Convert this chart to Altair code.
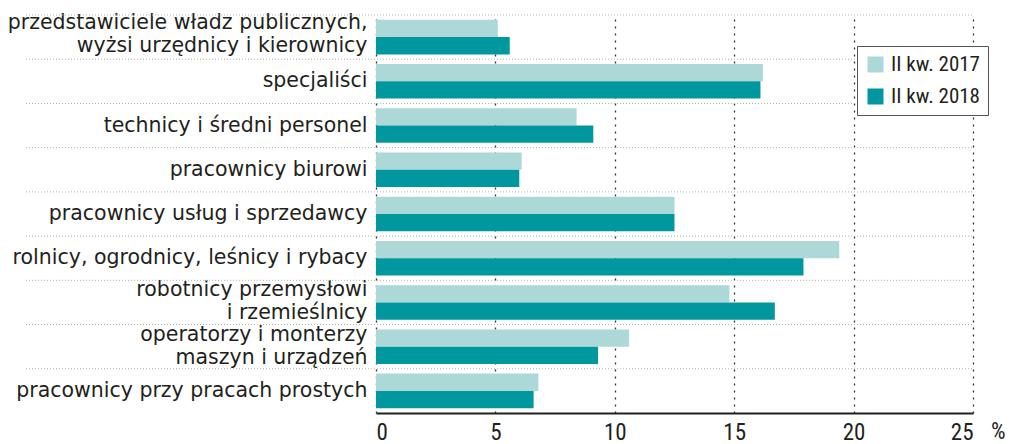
import altair as alt
import pandas as pd

categories = [
    "przedstawiciele władz publicznych,|wyżsi urzędnicy i kierownicy",
    "specjaliści",
    "technicy i średni personel",
    "pracownicy biurowi",
    "pracownicy usług i sprzedawcy",
    "rolnicy, ogrodnicy, leśnicy i rybacy",
    "robotnicy przemysłowi|i rzemieślnicy",
    "operatorzy i monterzy|maszyn i urządzeń",
    "pracownicy przy pracach prostych",
]
series = ["II kw. 2017", "II kw. 2018"]
values_2017 = [5.1, 16.2, 8.4, 6.1, 12.5, 19.4, 14.8, 10.6, 6.8]
values_2018 = [5.6, 16.1, 9.1, 6.0, 12.5, 17.9, 16.7, 9.3, 6.6]
x_ticks = [0, 5, 10, 15, 20, 25]

rows = []
for c, a, b in zip(categories, values_2017, values_2018):
    rows.append({"cat": c, "series": series[0], "value": a})
    rows.append({"cat": c, "series": series[1], "value": b})
df = pd.DataFrame(rows)
sep_df = pd.DataFrame({"cat": categories})
pct_df = pd.DataFrame({"t": ["%"], "x": [25]})

W, H = 597, 398
TXT = "#231f20"
COND = "Liberation Sans Narrow, Roboto Condensed, DejaVu Sans Condensed, Roboto, sans-serif"

y_axis = alt.Axis(
    title=None, ticks=False, domain=False,
    labelExpr="split(datum.label, '|')",
    labelFont="DejaVu Sans", labelFontSize=20.5, labelColor=TXT,
    labelPadding=9, labelLimit=400, labelLineHeight=23,
    labelOffset={"expr": "indexof(datum.value, 'przedstawiciele') >= 0 ? -14 : (indexof(datum.value, '|') >= 0 ? -12 : 0)"},
)
y_scale = alt.Scale(domain=categories, paddingInner=0, paddingOuter=0)

x_axis = alt.Axis(
    title=None, values=x_ticks, grid=True, gridDash=[2, 5], gridColor="#333333",
    gridWidth=1.3, ticks=False, domainColor=TXT, domainWidth=2,
    labelFont=COND, labelFontSize=23, labelColor=TXT, labelPadding=8,
)
x_scale = alt.Scale(domain=[0, 25], nice=False)

seps = alt.Chart(sep_df).mark_rule(color="#b0b0b0", strokeDash=[1, 2], strokeWidth=1).encode(
    y=alt.Y("cat:N", sort=categories, scale=y_scale, axis=y_axis, bandPosition=0),
    x=alt.value(-350),
    x2=alt.value(W),
)

bars = alt.Chart(df).mark_bar().encode(
    x=alt.X("value:Q", scale=x_scale, axis=x_axis),
    y=alt.Y("cat:N", sort=categories, scale=y_scale, axis=y_axis),
    yOffset=alt.YOffset("series:N", sort=series, scale=alt.Scale(paddingOuter=0.28, paddingInner=0)),
    color=alt.Color(
        "series:N",
        scale=alt.Scale(domain=series, range=["#acd8d8", "#00979f"]),
        legend=alt.Legend(
            title=None, orient="none", legendX=481, legendY=31,
            strokeColor="#555555", fillColor="white", padding=8,
            symbolType="square", symbolSize=256, symbolStrokeWidth=0,
            labelFont=COND, labelFontSize=21, labelColor=TXT,
            rowPadding=10, labelOffset=5,
        ),
    ),
)

pct = alt.Chart(pct_df).mark_text(
    align="left", baseline="top", fontSize=23, font=COND, color=TXT, dx=18, dy=8,
).encode(
    x=alt.X("x:Q", scale=x_scale, axis=x_axis),
    y=alt.value(H),
    text="t:N",
)

chart = alt.layer(seps, bars, pct).properties(
    width=W, height=H,
    autosize=alt.AutoSizeParams(type="none"),
    padding={"left": 368, "top": 7, "right": 35, "bottom": 31},
).configure_view(stroke=None)

chart.save("out.html", embed_options={"renderer": "svg", "actions": False})
